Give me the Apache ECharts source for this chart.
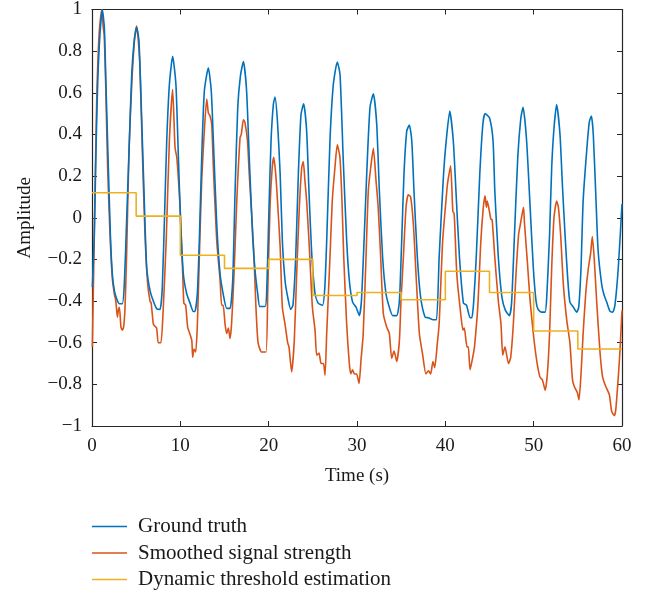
<!DOCTYPE html>
<html>
<head>
<meta charset="utf-8">
<script src="https://cdn.jsdelivr.net/npm/echarts@6/dist/echarts.min.js"></script>
<style>
html,body{margin:0;padding:0;background:#fff;}
#c{width:656px;height:593px;}
</style>
</head>
<body>
<div id="c"></div>
<script>
// Ground truth: [time (s), amplitude]
const groundTruth = [
[0.04,-0.333],[0.26,-0.08],[0.45,0.32],[0.64,0.64],[0.9,0.88],[1.17,1.0],[1.4,0.91],[1.58,0.64],[1.85,0.24],[2.08,-0.08],[2.3,-0.27],[2.53,-0.35],[2.8,-0.39],[3.1,-0.413],[3.43,-0.413],[3.66,-0.317],[3.93,0.0],[4.19,0.32],[4.5,0.69],[4.8,0.86],[5.06,0.914],[5.32,0.847],[5.62,0.48],[5.92,0.08],[6.19,-0.24],[6.57,-0.35],[6.94,-0.40],[7.32,-0.437],[7.7,-0.44],[7.96,-0.333],[8.26,0.08],[8.46,0.37],[8.76,0.64],[9.13,0.775],[9.5,0.64],[9.78,0.29],[10.04,-0.03],[10.34,-0.27],[10.72,-0.365],[11.1,-0.41],[11.47,-0.45],[11.65,-0.45],[11.93,-0.36],[12.15,-0.11],[12.42,0.29],[12.72,0.61],[13.17,0.72],[13.5,0.61],[13.74,0.37],[14.12,-0.03],[14.5,-0.27],[14.87,-0.37],[15.25,-0.435],[15.63,-0.435],[15.93,-0.30],[16.2,0.13],[16.5,0.53],[16.8,0.68],[17.14,0.75],[17.5,0.61],[17.8,0.29],[18.2,-0.1],[18.45,-0.25],[18.76,-0.365],[19.0,-0.426],[19.6,-0.426],[19.77,-0.365],[20.04,0.05],[20.27,0.37],[20.53,0.544],[20.72,0.58],[21.0,0.46],[21.3,0.21],[21.55,-0.11],[21.85,-0.30],[22.15,-0.38],[22.5,-0.44],[22.75,-0.42],[23.06,-0.19],[23.36,0.21],[23.66,0.496],[23.96,0.547],[24.3,0.416],[24.56,0.13],[24.87,-0.17],[25.25,-0.365],[25.6,-0.41],[26.1,-0.42],[26.35,-0.34],[26.57,-0.11],[26.94,0.37],[27.32,0.64],[27.77,0.748],[28.08,0.687],[28.45,0.27],[28.83,-0.11],[29.13,-0.30],[29.5,-0.405],[29.9,-0.43],[30.26,-0.47],[30.5,-0.40],[30.8,-0.11],[31.1,0.21],[31.47,0.53],[31.85,0.595],[32.23,0.45],[32.53,0.13],[32.9,-0.19],[33.28,-0.365],[33.66,-0.43],[34.04,-0.47],[34.5,-0.47],[34.8,-0.40],[35.06,-0.11],[35.32,0.21],[35.63,0.416],[35.92,0.445],[36.2,0.37],[36.45,0.13],[36.83,-0.19],[37.2,-0.38],[37.7,-0.477],[38.07,-0.48],[38.64,-0.49],[39.0,-0.49],[39.3,-0.19],[39.8,0.21],[40.1,0.37],[40.5,0.512],[40.9,0.37],[41.2,0.13],[41.6,-0.19],[42.05,-0.41],[42.4,-0.42],[42.8,-0.48],[43.0,-0.48],[43.2,-0.41],[43.5,-0.19],[43.9,0.21],[44.25,0.45],[44.5,0.5],[45.0,0.48],[45.4,0.37],[45.6,0.13],[46.0,-0.19],[46.4,-0.38],[46.8,-0.445],[47.25,-0.47],[47.5,-0.41],[47.8,-0.11],[48.2,0.29],[48.55,0.48],[48.8,0.53],[49.2,0.37],[49.6,0.05],[49.96,-0.24],[50.27,-0.40],[50.5,-0.44],[50.9,-0.453],[51.3,-0.453],[51.5,-0.365],[51.8,-0.08],[52.04,0.24],[52.3,0.43],[52.6,0.544],[52.98,0.40],[53.25,0.16],[53.55,-0.08],[53.85,-0.29],[54.1,-0.405],[54.5,-0.43],[54.87,-0.453],[55.1,-0.43],[55.36,-0.24],[55.6,0.08],[56.0,0.32],[56.3,0.46],[56.53,0.488],[56.75,0.40],[57.06,0.08],[57.3,-0.16],[57.7,-0.32],[57.96,-0.37],[58.27,-0.405],[58.65,-0.45],[58.95,-0.453],[59.2,-0.42],[59.58,-0.24],[60,0.066]
];
// Smoothed signal strength: [time (s), amplitude]
const smoothedSignal = [
[0.04,-0.62],[0.26,-0.08],[0.53,0.56],[0.8,0.88],[1.1,1.0],[1.28,0.91],[1.38,0.88],[1.55,0.64],[1.77,0.24],[2.04,-0.08],[2.3,-0.29],[2.53,-0.365],[2.7,-0.40],[2.87,-0.477],[2.98,-0.445],[3.1,-0.43],[3.28,-0.525],[3.43,-0.54],[3.58,-0.525],[3.74,-0.43],[3.93,-0.16],[4.19,0.32],[4.5,0.64],[4.8,0.847],[5.06,0.92],[5.25,0.847],[5.43,0.72],[5.7,0.32],[6.0,-0.08],[6.3,-0.317],[6.57,-0.40],[6.7,-0.41],[6.94,-0.51],[7.1,-0.52],[7.32,-0.53],[7.5,-0.60],[7.8,-0.60],[8.05,-0.45],[8.4,-0.11],[8.76,0.37],[9.13,0.616],[9.4,0.336],[9.6,0.29],[9.97,0.05],[10.27,-0.27],[10.4,-0.41],[10.6,-0.42],[10.83,-0.525],[11.1,-0.56],[11.3,-0.59],[11.4,-0.67],[11.55,-0.63],[11.74,-0.645],[11.93,-0.51],[12.15,-0.19],[12.42,0.18],[12.72,0.42],[12.99,0.57],[13.17,0.504],[13.35,0.49],[13.55,0.45],[13.74,0.24],[14.12,-0.11],[14.5,-0.30],[14.68,-0.42],[14.85,-0.42],[15.06,-0.51],[15.25,-0.556],[15.44,-0.53],[15.63,-0.58],[15.8,-0.51],[16.08,-0.27],[16.39,0.08],[16.76,0.384],[16.9,0.40],[17.14,0.47],[17.3,0.46],[17.6,0.37],[17.8,0.21],[18.3,-0.15],[18.55,-0.42],[18.8,-0.60],[19.2,-0.645],[19.7,-0.645],[19.9,-0.35],[20.15,0.05],[20.4,0.24],[20.57,0.29],[20.8,0.21],[21.0,0.08],[21.3,-0.14],[21.55,-0.43],[21.85,-0.51],[22.15,-0.60],[22.3,-0.62],[22.6,-0.74],[22.9,-0.59],[23.17,-0.27],[23.47,0.05],[23.74,0.24],[23.92,0.27],[24.1,0.18],[24.3,0.08],[24.6,-0.14],[24.95,-0.43],[25.25,-0.54],[25.44,-0.66],[25.7,-0.65],[25.93,-0.70],[26.2,-0.70],[26.38,-0.756],[26.57,-0.556],[26.94,-0.19],[27.2,0.08],[27.5,0.24],[27.77,0.35],[28.07,0.29],[28.3,0.08],[28.5,-0.19],[28.83,-0.51],[29.13,-0.70],[29.3,-0.75],[29.5,-0.73],[29.7,-0.75],[29.96,-0.75],[30.23,-0.796],[30.45,-0.685],[30.7,-0.56],[31.02,-0.19],[31.28,0.13],[31.55,0.24],[31.85,0.333],[32.15,0.18],[32.4,0.05],[32.68,-0.19],[32.98,-0.46],[33.36,-0.525],[33.66,-0.556],[33.93,-0.676],[34.19,-0.64],[34.5,-0.69],[34.8,-0.59],[34.98,-0.40],[35.25,-0.19],[35.55,0.05],[35.8,0.11],[36.07,0.10],[36.38,-0.03],[36.68,-0.27],[37.06,-0.556],[37.44,-0.66],[37.8,-0.75],[38.1,-0.735],[38.34,-0.75],[38.6,-0.69],[38.8,-0.72],[39.1,-0.60],[39.3,-0.51],[39.7,-0.11],[40.2,0.145],[40.3,0.18],[40.6,0.25],[40.85,0.03],[41.0,0.02],[41.3,-0.27],[41.7,-0.445],[42.0,-0.54],[42.15,-0.53],[42.45,-0.62],[42.6,-0.62],[42.8,-0.73],[43.1,-0.67],[43.3,-0.62],[43.7,-0.41],[44.0,-0.126],[44.3,0.05],[44.5,0.105],[44.65,0.05],[44.75,0.08],[45.15,-0.006],[45.3,-0.01],[45.6,-0.19],[46.0,-0.40],[46.3,-0.51],[46.5,-0.66],[46.75,-0.62],[47.15,-0.70],[47.4,-0.67],[47.7,-0.51],[48.0,-0.27],[48.3,-0.078],[48.5,-0.03],[48.85,0.05],[48.95,-0.02],[49.3,-0.22],[49.6,-0.40],[49.96,-0.556],[50.34,-0.685],[50.7,-0.764],[51.0,-0.78],[51.3,-0.828],[51.55,-0.75],[51.8,-0.556],[52.04,-0.24],[52.3,0.0],[52.6,0.08],[52.8,0.05],[53.05,-0.08],[53.36,-0.32],[53.74,-0.49],[54.1,-0.60],[54.4,-0.78],[54.6,-0.81],[54.95,-0.84],[55.13,-0.875],[55.36,-0.75],[55.6,-0.556],[55.9,-0.36],[56.2,-0.24],[56.45,-0.17],[56.64,-0.09],[56.86,-0.20],[57.13,-0.40],[57.5,-0.64],[57.8,-0.764],[58.16,-0.81],[58.57,-0.85],[58.83,-0.93],[59.13,-0.95],[59.3,-0.92],[59.58,-0.764],[59.77,-0.64],[60,-0.445]
];
// Dynamic threshold estimation: window start times and levels
const thresholdTimes = [0,5,10,15,20,25,30,35,40,45,50,55,60];
const thresholdValues = [0.12,0.008,-0.18,-0.243,-0.20,-0.373,-0.359,-0.394,-0.257,-0.359,-0.544,-0.63,-0.63];
const seriesNames = ['Ground truth','Smoothed signal strength','Dynamic threshold estimation'];
const xTicks = [0,10,20,30,40,50,60];
const yTicks = [-1,-0.8,-0.6,-0.4,-0.2,0,0.2,0.4,0.6,0.8,1];

const FONT = '"Liberation Serif", "DejaVu Serif", serif';
const AX = '#262626';
const thresholdData = thresholdTimes.map((t,i)=>[t,thresholdValues[i]]);

const chart = echarts.init(document.getElementById('c'), null, {renderer:'canvas'});
const fmtY = v => { const r = Math.round(v*10)/10; return (r<0?'\u2212':'') + Math.abs(r); };
const baseAxis = () => ({
  axisLine:{show:true,onZero:false,lineStyle:{color:AX,width:1.2}},
  axisTick:{show:true,inside:true,length:5,lineStyle:{color:AX,width:1}},
  splitLine:{show:false}
});
chart.setOption({
  animation:false,
  backgroundColor:'#fff',
  grid:{left:92,right:34,top:8,bottom:167,containLabel:false},
  legend:{
    orient:'vertical', left:92, top:516, padding:0,
    icon:'rect', itemWidth:35, itemHeight:1.5, itemGap:5.5,
    textStyle:{fontFamily:FONT,fontSize:21,color:'#1a1a1a',lineHeight:21,padding:[0,0,0,6]},
    data:seriesNames
  },
  xAxis:[
    Object.assign({type:'value',min:0,max:60,interval:10,position:'bottom',
      name:'Time (s)',nameLocation:'middle',nameGap:41,
      nameTextStyle:{fontFamily:FONT,fontSize:19,color:'#1a1a1a'},
      axisLabel:{fontFamily:FONT,fontSize:19,color:'#1a1a1a',margin:11}},baseAxis()),
    Object.assign({type:'value',min:0,max:60,interval:10,position:'top',axisLabel:{show:false}},baseAxis())
  ],
  yAxis:[
    Object.assign({type:'value',min:-1,max:1,interval:0.2,position:'left',
      name:'Amplitude',nameLocation:'middle',nameGap:57,
      nameTextStyle:{fontFamily:FONT,fontSize:19,color:'#1a1a1a'},
      axisLabel:{fontFamily:FONT,fontSize:19,color:'#1a1a1a',margin:10,formatter:fmtY}},baseAxis()),
    Object.assign({type:'value',min:-1,max:1,interval:0.2,position:'right',axisLabel:{show:false}},baseAxis())
  ],
  series:[
    {name:seriesNames[0],type:'line',data:groundTruth,showSymbol:false,smooth:0.2,lineStyle:{color:'#0072BD',width:1.6},itemStyle:{color:'#0072BD'},z:3},
    {name:seriesNames[1],type:'line',data:smoothedSignal,showSymbol:false,smooth:0.2,lineStyle:{color:'#D95319',width:1.6},itemStyle:{color:'#D95319'},z:2},
    {name:seriesNames[2],type:'line',step:'end',data:thresholdData,showSymbol:false,lineStyle:{color:'#EDB120',width:1.6},itemStyle:{color:'#EDB120'},z:4}
  ]
});
</script>
</body>
</html>
